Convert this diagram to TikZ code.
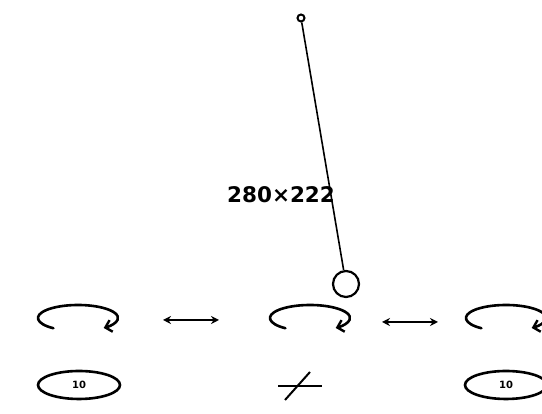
\documentclass[tikz,border=0pt]{standalone}
\usepackage{fontspec}
\newfontfamily\labelfont{DejaVu Sans}
\usetikzlibrary{arrows.meta,calc,shapes.geometric}
\tikzset{
  rot/.style={line width=2.6pt, line cap=round, -{Straight Barb[length=6pt,width=12pt,line width=2.4pt]}},
  dbl/.style={line width=1.8pt, {Stealth[length=8pt,width=8pt]}-{Stealth[length=8pt,width=8pt]}},
  tag/.style={draw, ellipse, line width=2.6pt, minimum width=82pt, minimum height=28pt, inner sep=0pt, font=\labelfont\bfseries\fontsize{10}{10}\selectfont},
}
\begin{document}
\begin{tikzpicture}[x=1pt,y=1pt]
\useasboundingbox (0,0) rectangle (542,414);
% pendulum
\node[draw, circle, line width=2pt, minimum size=7pt, inner sep=0pt] (pivot) at (301,396) {};
\node[draw, circle, line width=2.2pt, minimum size=26pt, inner sep=0pt] (bob) at (346,284-154) {};
\draw[line width=1.6pt] (pivot) -- (bob);
\node[font=\labelfont\bfseries\fontsize{21.5}{21.5}\selectfont, inner sep=0pt] (size) at (281,219) {280×222};
% rotation arrows
\coordinate (r1) at (78,96);
\coordinate (r2) at (310,96);
\coordinate (r3) at (506,96);
\foreach \c in {r1,r2,r3}{
  \draw[rot] ($(\c)+(232:40 and 13)$) arc[start angle=232, end angle=-50, x radius=40, y radius=13];
}
% double arrows
\coordinate (a1) at (163,94);
\coordinate (b1) at (219,94);
\coordinate (a2) at (382,92);
\coordinate (b2) at (438,92);
\draw[dbl] (a1) -- (b1);
\draw[dbl] (a2) -- (b2);
% tags
\node[tag] (t1) at (79,29) {10};
\node[tag] (t3) at (506,29) {10};
% crossed mark
\coordinate (h1) at (278,28);
\coordinate (h2) at (322,28);
\coordinate (s1) at (310,42);
\coordinate (s2) at (285,14);
\draw[line width=2.4pt] (h1) -- (h2);
\draw[line width=2pt] (s1) -- (s2);
\end{tikzpicture}
\end{document}
